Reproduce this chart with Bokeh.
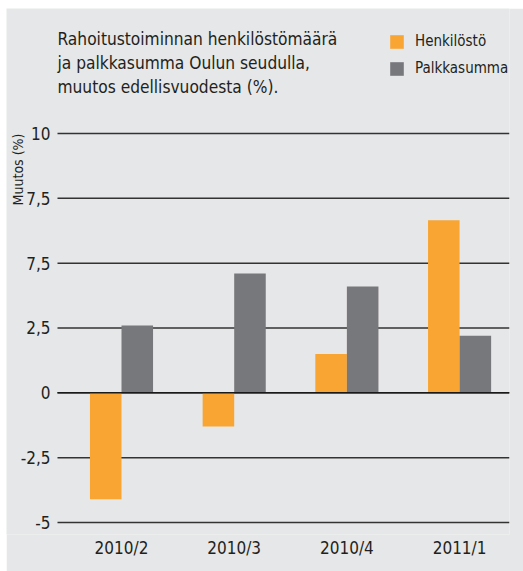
from bokeh.plotting import figure
from bokeh.models import Range1d, FixedTicker, Label, Legend, LegendItem, ColumnDataSource
from bokeh.embed import file_html
from bokeh.resources import INLINE

# ---- data ----
categories = ["2010/2", "2010/3", "2010/4", "2011/1"]
henkilosto = [-4.1, -1.3, 1.5, 6.65]
palkkasumma = [2.6, 4.6, 4.1, 2.2]
y_tick_values = [-5, -2.5, 0, 2.5, 5, 7.5, 10]
y_tick_labels = ["-5", "-2,5", "0", "2,5", "7,5", "7,5", "10"]
title_lines = ["Rahoitustoiminnan  henkilöstömäärä",
               "ja palkkasumma  Oulun seudulla,",
               "muutos  edellisvuodesta (%)."]
y_label = "Muutos  (%)"
series_names = ["Henkilöstö", "Palkkasumma"]

FONT = "DejaVu Sans Condensed"
BG = "#e6e7e8"
ORANGE = "#f9a533"
GREY = "#77787b"
TXT = "#231f20"
GRID = "#333333"

# layout constants (data units of the x scale)
X0, X1 = -0.568, 3.443          # extent of the plotting area proper
XSTART = -1.0205                # left edge of the drawing frame

xpos = list(range(len(categories)))
src = ColumnDataSource(dict(
    x_h=[i - 0.14 for i in xpos],
    x_p=[i + 0.14 for i in xpos],
    henk=henkilosto,
    palk=palkkasumma,
))
grid_src = ColumnDataSource(dict(
    y=y_tick_values, lab=y_tick_labels,
    x0=[X0] * len(y_tick_values), x1=[X1] * len(y_tick_values),
    xl=[X0 - 7 / 112.7] * len(y_tick_values),
))

p = figure(width=517, height=563, output_backend="svg", toolbar_location=None,
           x_range=Range1d(XSTART, X1), y_range=Range1d(-5.463, 14.82),
           min_border_left=0, min_border_right=14, min_border_top=0, min_border_bottom=37)
p.margin = (8, 0, 0, 6)
p.background_fill_color = BG
p.border_fill_color = BG
p.outline_line_color = None
p.grid.grid_line_color = None
p.yaxis.visible = False

# horizontal grid lines
p.segment(x0="x0", x1="x1", y0="y", y1="y", source=grid_src,
          line_color=GRID, line_width=1.5)

r_h = p.vbar(x="x_h", top="henk", bottom=0, width=0.28, source=src,
             fill_color=ORANGE, line_color=None)
r_p = p.vbar(x="x_p", top="palk", bottom=0, width=0.28, source=src,
             fill_color=GREY, line_color=None)

# zero line on top of bars
p.segment(x0=[X0], x1=[X1], y0=[0], y1=[0], line_color="#1a1a1a", line_width=1.5)

# y tick labels
p.text(x="xl", y="y", text="lab", source=grid_src, text_align="right",
       text_baseline="middle", text_font_size="17px", text_color=TXT,
       text_font={"value": FONT})

# x axis
p.xaxis.ticker = FixedTicker(ticks=xpos)
p.xaxis.major_label_overrides = {i: c for i, c in zip(xpos, categories)}
p.xaxis.axis_line_color = None
p.xaxis.major_tick_line_color = None
p.xaxis.minor_tick_line_color = None
p.xaxis.major_tick_out = 0
p.xaxis.major_tick_in = 0
p.xaxis.major_label_standoff = 3
p.xaxis.major_label_text_font = FONT
p.xaxis.major_label_text_font_size = "17px"
p.xaxis.major_label_text_color = TXT

# title
for k, line in enumerate(title_lines):
    p.add_layout(Label(x=X0, y=13.64 - k * 0.915, text=line,
                       text_font=FONT, text_font_size="17.2px", text_color=TXT,
                       text_baseline="alphabetic", text_align="left"))

# y label
p.add_layout(Label(x=X0 - 39 / 112.7, y=8.69, text=y_label, angle=1.5708,
                   text_font=FONT, text_font_size="14px", text_color=TXT,
                   text_align="center", text_baseline="middle"))

legend = Legend(items=[LegendItem(label=series_names[0], renderers=[r_h]),
                       LegendItem(label=series_names[1], renderers=[r_p])],
                location=(382, 457), orientation="vertical",
                glyph_width=17, glyph_height=17, label_standoff=10, spacing=9,
                padding=0, margin=0, border_line_color=None, background_fill_alpha=0,
                label_text_font=FONT, label_text_font_size="15px", label_text_color=TXT,
                label_height=17)
p.add_layout(legend)

open("out.html", "w").write(file_html(p, INLINE))
